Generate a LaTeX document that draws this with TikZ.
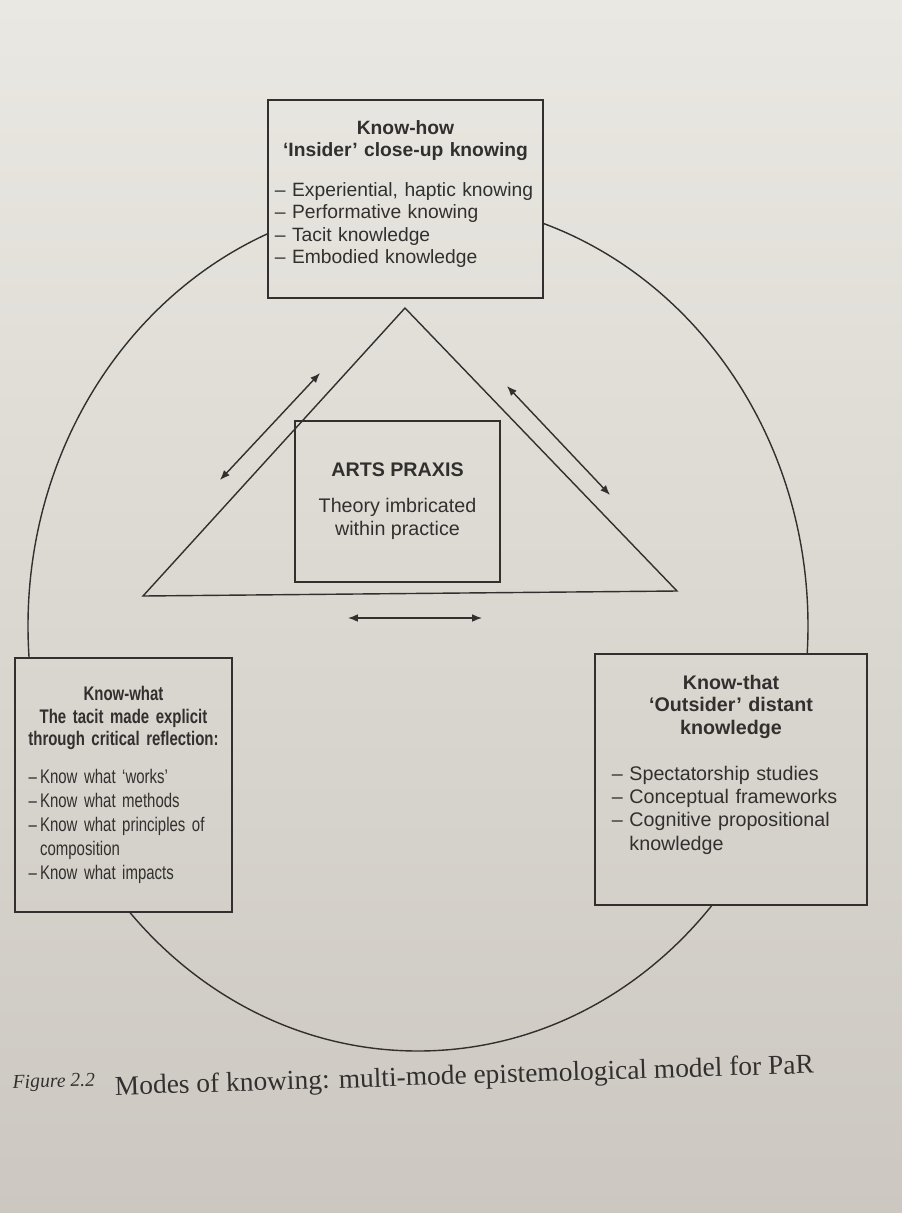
\documentclass[tikz,border=0pt]{standalone}
\usepackage{fontspec}
\setmainfont{Liberation Serif}
\newfontfamily\helv{Liberation Sans}
\newfontfamily\helvnarrow[FakeStretch=0.76]{Liberation Sans}
\usetikzlibrary{arrows.meta}
\definecolor{pagetop}{RGB}{234,232,226}
\definecolor{pagebot}{RGB}{204,200,193}
\definecolor{ink}{RGB}{50,48,46}
\setlength{\parindent}{0pt}

\begin{document}
\begin{tikzpicture}[x=0.025cm, y=-0.025cm,
    box/.style={draw=ink, line width=1pt, text=ink, inner sep=0pt,
      font=\helv\fontsize{13.7}{16}\selectfont},
    twoway/.style={{Latex[length=7pt,width=5.5pt]}-{Latex[length=7pt,width=5.5pt]},
      draw=ink, line width=1pt}]
      % Bounding box / page
      \shade[top color=pagetop, bottom color=pagebot, use as bounding box] (0,0) rectangle (902,1213);

      \draw (405.5,199) node[box, minimum width=6.875cm, minimum height=4.95cm, text width=6.525cm] (knowhow)
        {{\centering\bfseries Know-how\\ ‘Insider’ close-up knowing\par}\vspace{12pt}
         \raggedright – Experiential, haptic knowing\\ – Performative knowing\\
         – Tacit knowledge\\ – Embodied knowledge\par\vspace{7pt}};
      \draw (123.5,785) node[box, minimum width=5.425cm, minimum height=6.35cm, text width=5.1cm,
        font=\helvnarrow\fontsize{14}{16}\selectfont] (knowwhat)
        {{\centering\bfseries Know-what\\ The tacit made explicit\\ through critical reflection:\par}\vspace{10pt}
         \fontsize{14}{17}\selectfont\raggedright\leftskip=5pt –\,Know what ‘works’\\ –\,Know what methods\\
         –\,Know what principles of\\ \phantom{–\,}composition\\ –\,Know what impacts\par};
      \draw (731,779.5) node[box, minimum width=6.8cm, minimum height=6.275cm, text width=5.95cm,
        font=\helv\fontsize{14}{16}\selectfont] (knowthat)
        {{\centering\bfseries Know-that\\ ‘Outsider’ distant\\ knowledge\par}\vspace{16pt}
         \fontsize{14}{16.6}\selectfont\raggedright – Spectatorship studies\\ – Conceptual frameworks\\
         – Cognitive propositional\\ \phantom{–~}knowledge\par\vspace{21pt}};
      \draw (397.5,501.5) node[box, minimum width=5.125cm, minimum height=4.025cm, align=center,
        font=\helv\fontsize{14}{16.5}\selectfont] (praxis)
        {\textbf{ARTS PRAXIS}\\[9pt] Theory imbricated\\ within practice};

      % circle behind the boxes
      \begin{scope}[even odd rule]
        \clip (0,0) rectangle (902,1213)
          (knowhow.north west) rectangle (knowhow.south east)
          (knowwhat.north west) rectangle (knowwhat.south east)
          (knowthat.north west) rectangle (knowthat.south east);
        \draw[ink, line width=1pt] (418,626) ellipse [x radius=390, y radius=425];
      \end{scope}

      % triangle
      \coordinate (apex) at (405,308);
      \coordinate (baseleft) at (143,596);
      \coordinate (baseright) at (677,591);
      \draw[ink, line width=1pt] (apex) -- (baseleft) -- (baseright) -- cycle;

      \coordinate (la1) at (220,480);
      \coordinate (la2) at (320,373);
      \coordinate (ra1) at (507,386);
      \coordinate (ra2) at (610,495);
      \coordinate (ba1) at (348,618);
      \coordinate (ba2) at (482,618);
      \draw[twoway] (la1) -- (la2);
      \draw[twoway] (ra1) -- (ra2);
      \draw[twoway] (ba1) -- (ba2);

      \draw (8,1090) node[anchor=west, rotate=1.8, text=ink, font=\fontsize{19.5}{19.5}\selectfont] (caption)
        {\raisebox{7pt}{\fontsize{14}{14}\selectfont\itshape Figure 2.2}\hspace{14pt}Modes of knowing: multi-mode epistemological model for PaR};
    \end{tikzpicture}
\end{document}
